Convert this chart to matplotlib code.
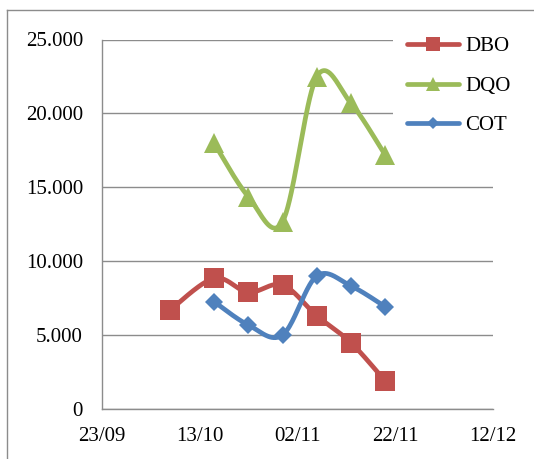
import numpy as np
import matplotlib
matplotlib.use("Agg")
import matplotlib.pyplot as plt
import matplotlib.dates as mdates
from matplotlib.ticker import FuncFormatter, MultipleLocator
from matplotlib.lines import Line2D

plt.rcParams["font.family"] = ["Liberation Serif", "DejaVu Serif"]

# Sampling dates and measured values (mg/L)
dbo_dates = ["2012-10-07", "2012-10-16", "2012-10-23", "2012-10-30",
             "2012-11-06", "2012-11-13", "2012-11-20"]
dbo_values = [6713, 8856, 7910, 8403, 6328, 4502, 1913]

dqo_dates = ["2012-10-16", "2012-10-23", "2012-10-30",
             "2012-11-06", "2012-11-13", "2012-11-20"]
dqo_values = [17983, 14373, 12683, 22485, 20687, 17192]

cot_dates = ["2012-10-16", "2012-10-23", "2012-10-30",
             "2012-11-06", "2012-11-13", "2012-11-20"]
cot_values = [7274, 5699, 5023, 9012, 8336, 6936]

x_ticks = ["2012-09-23", "2012-10-13", "2012-11-02", "2012-11-22", "2012-12-12"]
series_names = ["DBO", "DQO", "COT"]
colors = ["#C0504D", "#9BBB59", "#4F81BD"]
grid_color = "#8C8C8C"


def to_num(dates):
    return mdates.date2num(np.array(dates, dtype="datetime64[D]"))


def smooth_curve(x, y, n=40):
    """Bezier smoothing through every point (Catmull-Rom style control points)."""
    pts = np.column_stack([x, y]).astype(float)
    parts = []
    t = np.linspace(0, 1, n)[:, None]
    for i in range(len(pts) - 1):
        p0 = pts[i - 1] if i > 0 else pts[i]
        p1, p2 = pts[i], pts[i + 1]
        p3 = pts[i + 2] if i + 2 < len(pts) else pts[i + 1]
        c1 = p1 + (p2 - p0) / 6.0
        c2 = p2 - (p3 - p1) / 6.0
        seg = ((1 - t) ** 3) * p1 + 3 * ((1 - t) ** 2) * t * c1 \
            + 3 * (1 - t) * (t ** 2) * c2 + (t ** 3) * p2
        parts.append(seg if i == 0 else seg[1:])
    out = np.vstack(parts)
    return out[:, 0], out[:, 1]


W, H = 534, 459
fig = plt.figure(figsize=(W / 100, H / 100), dpi=100)
ax = fig.add_axes([101.7 / W, 1 - 409.3 / H, (492.7 - 101.7) / W, (409.3 - 39.5) / H])

series = [
    (to_num(dbo_dates), dbo_values, "s", 14, 9.5),
    (to_num(dqo_dates), dqo_values, "^", 15, 9.5),
    (to_num(cot_dates), cot_values, "D", 8.8, 6.0),
]
lw = 3.4

handles = []
for (xd, yd, mk, ms, ms_leg), name, col in zip(series, series_names, colors):
    sx, sy = smooth_curve(xd, yd)
    ax.plot(sx, sy, color=col, lw=lw, solid_capstyle="round",
            solid_joinstyle="round")
    ax.plot(xd, yd, linestyle="none", marker=mk, ms=ms, color=col,
            markeredgewidth=0)
    handles.append(Line2D([], [], color=col, lw=lw, marker=mk, ms=ms_leg,
                          markeredgewidth=0, solid_capstyle="round", label=name))

xt = to_num(x_ticks)
ax.set_xlim(xt[0], xt[-1])
ax.set_xticks(xt)
ax.xaxis.set_major_formatter(mdates.DateFormatter("%d/%m"))
ax.set_ylim(0, 25000)
ax.yaxis.set_major_locator(MultipleLocator(5000))
ax.yaxis.set_major_formatter(FuncFormatter(lambda v, p: f"{v:,.0f}".replace(",", ".")))

ax.grid(axis="y", color=grid_color, lw=1.0)
ax.set_axisbelow(True)
for s in ["top", "right"]:
    ax.spines[s].set_visible(False)
for s in ["left", "bottom"]:
    ax.spines[s].set_color(grid_color)
    ax.spines[s].set_linewidth(1.0)

ax.tick_params(axis="both", length=0, labelsize=15, colors="black")
ax.tick_params(axis="y", pad=13.5)
ax.tick_params(axis="x", pad=12.5)

leg = ax.legend(handles=handles, loc="center left",
                bbox_to_anchor=(393 / W, 1 - 86 / H),
                bbox_transform=fig.transFigure, frameon=True, fancybox=False,
                facecolor="white", edgecolor="none", framealpha=1.0,
                fontsize=15, handlelength=2.5, handletextpad=0.3,
                borderpad=0.65, labelspacing=0.95, borderaxespad=0)

# Outer chart-area border
fig.add_artist(Line2D([7 / W, 1.0], [1 - 10 / H, 1 - 10 / H],
                      transform=fig.transFigure, color=grid_color, lw=1.0))
fig.add_artist(Line2D([7 / W, 7 / W], [0.0, 1 - 10 / H],
                      transform=fig.transFigure, color=grid_color, lw=1.0))

fig.savefig("out.png", dpi=100)
